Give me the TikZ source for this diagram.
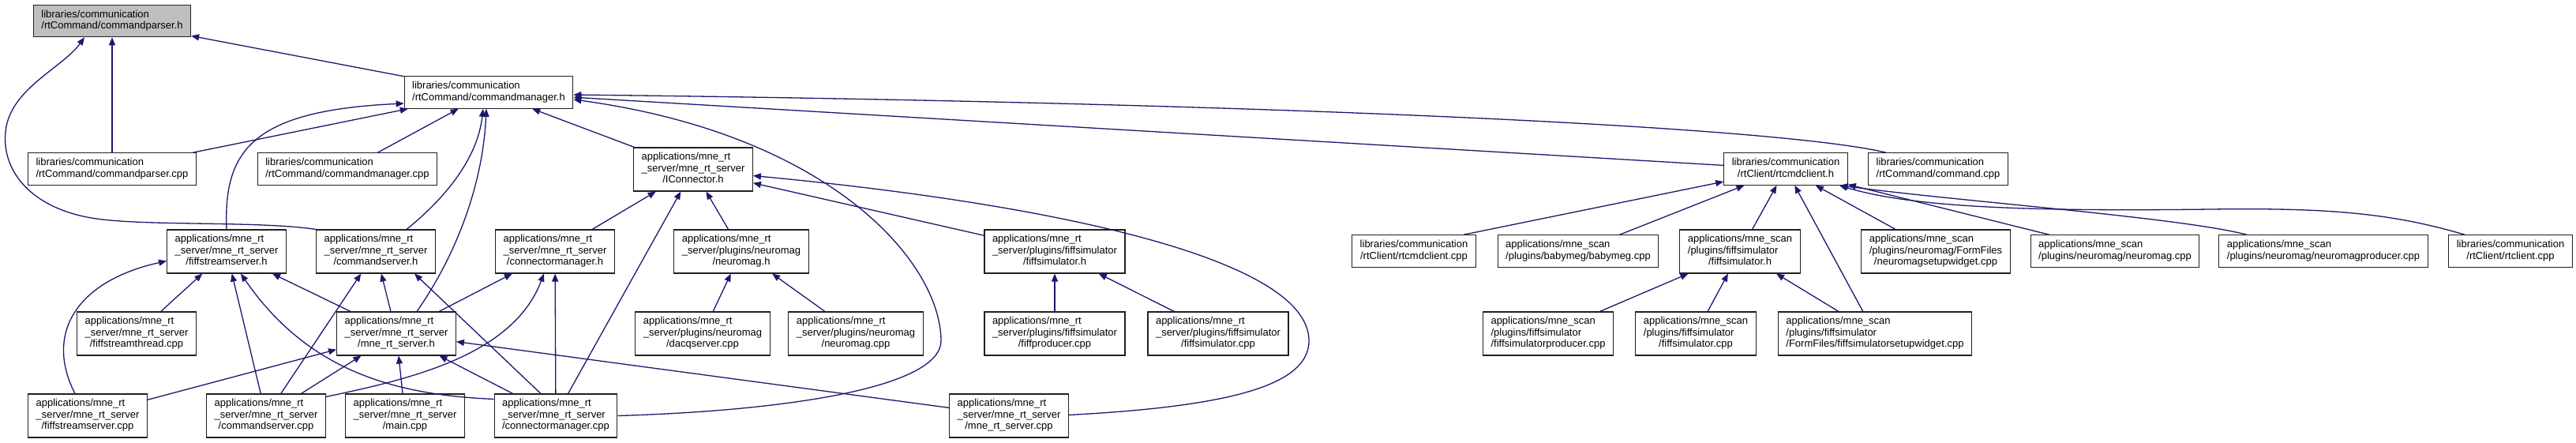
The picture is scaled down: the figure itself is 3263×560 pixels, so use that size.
\documentclass[tikz,border=0pt]{standalone}
\usepackage{fontspec}
\setmainfont{Liberation Sans}
\usepackage{xcolor}
\usepackage{tikz}
\usetikzlibrary{positioning, arrows.meta}
\definecolor{edgeblue}{HTML}{191970}
\definecolor{rootgray}{HTML}{BFBFBF}
\definecolor{boxline}{HTML}{202020}
\newcommand{\flab}[2]{\begin{tabular}{@{}l@{}}#1\\\multicolumn{1}{@{}c@{}}{#2}\end{tabular}}

\begin{document}
\begin{tikzpicture}[x=1pt, y=1pt,
  filenode/.style={draw=boxline, line width=1.1pt, fill=white, inner xsep=10pt, inner ysep=5.75pt,
    font=\fontsize{13}{14.5}\selectfont},
  dep/.style={edgeblue, line width=1.3pt, -{Triangle[length=10pt, width=8pt]}}]
  \path[fill=white, use as bounding box] (0,0) rectangle (3263,-560);

  \node[filenode, fill=rootgray] (cparserh) at (142,-26.5)
    {\flab{libraries/communication}{/rtCommand/commandparser.h}};
  \node[filenode] (cmanagerh) at (619,-117)
    {\flab{libraries/communication}{/rtCommand/commandmanager.h}};
  \node[filenode] (cparsercpp) at (142,-214)
    {\flab{libraries/communication}{/rtCommand/commandparser.cpp}};
  \node[filenode] (cmanagercpp) at (440,-214)
    {\flab{libraries/communication}{/rtCommand/commandmanager.cpp}};
  \node[filenode] (iconnh) at (878,-214.5)
    {\flab{applications/mne\_rt\\\_server/mne\_rt\_server}{/IConnector.h}};
  \node[filenode] (rtcmdclienth) at (2262,-214)
    {\flab{libraries/communication}{/rtClient/rtcmdclient.h}};
  \node[filenode] (commandcpp) at (2455,-214)
    {\flab{libraries/communication}{/rtCommand/command.cpp}};

  \node[filenode] (fssh) at (287,-318.5)
    {\flab{applications/mne\_rt\\\_server/mne\_rt\_server}{/fiffstreamserver.h}};
  \node[filenode] (csh) at (476,-318.5)
    {\flab{applications/mne\_rt\\\_server/mne\_rt\_server}{/commandserver.h}};
  \node[filenode] (cmh) at (703,-318.5)
    {\flab{applications/mne\_rt\\\_server/mne\_rt\_server}{/connectormanager.h}};
  \node[filenode] (nmh) at (939,-318.5)
    {\flab{applications/mne\_rt\\\_server/plugins/neuromag}{/neuromag.h}};
  \node[filenode] (fsimh) at (1336,-318.5)
    {\flab{applications/mne\_rt\\\_server/plugins/fiffsimulator}{/fiffsimulator.h}};
  \node[filenode] (rtcmdclientcpp) at (1791,-318)
    {\flab{libraries/communication}{/rtClient/rtcmdclient.cpp}};
  \node[filenode] (babymegcpp) at (1999,-318)
    {\flab{applications/mne\_scan}{/plugins/babymeg/babymeg.cpp}};
  \node[filenode] (sfsimh) at (2204,-318.5)
    {\flab{applications/mne\_scan\\/plugins/fiffsimulator}{/fiffsimulator.h}};
  \node[filenode] (nmsetupcpp) at (2452,-318.5)
    {\flab{applications/mne\_scan\\/plugins/neuromag/FormFiles}{/neuromagsetupwidget.cpp}};
  \node[filenode] (snmcpp) at (2679,-318)
    {\flab{applications/mne\_scan}{/plugins/neuromag/neuromag.cpp}};
  \node[filenode] (nmprodcpp) at (2943,-318)
    {\flab{applications/mne\_scan}{/plugins/neuromag/neuromagproducer.cpp}};
  \node[filenode] (rtclientcpp) at (3180,-318)
    {\flab{libraries/communication}{/rtClient/rtclient.cpp}};

  \node[filenode] (fstcpp) at (173,-422.5)
    {\flab{applications/mne\_rt\\\_server/mne\_rt\_server}{/fiffstreamthread.cpp}};
  \node[filenode] (mrsh) at (502,-422.5)
    {\flab{applications/mne\_rt\\\_server/mne\_rt\_server}{/mne\_rt\_server.h}};
  \node[filenode] (dacqcpp) at (890,-422.5)
    {\flab{applications/mne\_rt\\\_server/plugins/neuromag}{/dacqserver.cpp}};
  \node[filenode] (nmcpp) at (1084,-422.5)
    {\flab{applications/mne\_rt\\\_server/plugins/neuromag}{/neuromag.cpp}};
  \node[filenode] (fprodcpp) at (1336,-422.5)
    {\flab{applications/mne\_rt\\\_server/plugins/fiffsimulator}{/fiffproducer.cpp}};
  \node[filenode] (fsimcpp) at (1543,-422.5)
    {\flab{applications/mne\_rt\\\_server/plugins/fiffsimulator}{/fiffsimulator.cpp}};
  \node[filenode] (sfsimprodcpp) at (1961,-422.5)
    {\flab{applications/mne\_scan\\/plugins/fiffsimulator}{/fiffsimulatorproducer.cpp}};
  \node[filenode] (sfsimcpp) at (2148,-422.5)
    {\flab{applications/mne\_scan\\/plugins/fiffsimulator}{/fiffsimulator.cpp}};
  \node[filenode] (sfsimsetupcpp) at (2375,-422.5)
    {\flab{applications/mne\_scan\\/plugins/fiffsimulator}{/FormFiles/fiffsimulatorsetupwidget.cpp}};

  \node[filenode] (fsscpp) at (111,-526.5)
    {\flab{applications/mne\_rt\\\_server/mne\_rt\_server}{/fiffstreamserver.cpp}};
  \node[filenode] (cscpp) at (337,-526.5)
    {\flab{applications/mne\_rt\\\_server/mne\_rt\_server}{/commandserver.cpp}};
  \node[filenode] (maincpp) at (513,-526.5)
    {\flab{applications/mne\_rt\\\_server/mne\_rt\_server}{/main.cpp}};
  \node[filenode] (cmcpp) at (704,-526.5)
    {\flab{applications/mne\_rt\\\_server/mne\_rt\_server}{/connectormanager.cpp}};
  \node[filenode] (mrscpp) at (1278,-526.5)
    {\flab{applications/mne\_rt\\\_server/mne\_rt\_server}{/mne\_rt\_server.cpp}};

  \draw[dep] (cparsercpp) -- (cparserh);
  \draw[dep] (cmanagerh) -- (cparserh);
  \draw[dep] (csh.north west) .. controls (330,-280) and (200,-286) .. (130,-278)
    .. controls (40,-268) and (-2,-215) .. (8,-160)
    .. controls (18,-110) and (80,-85) .. ([xshift=-35pt]cparserh.south);

  \draw[dep] (cparsercpp) -- (cmanagerh);
  \draw[dep] (cmanagercpp) -- (cmanagerh);
  \draw[dep] (fssh.north) .. controls (283,-190) and (320,-140) .. ([yshift=-14pt]cmanagerh.west);
  \draw[dep] ([xshift=39pt]csh.north) .. controls (565,-250) and (605,-200) .. ([xshift=-7pt]cmanagerh.south);
  \draw[dep] ([xshift=26pt]mrsh.north) .. controls (580,-320) and (612,-230) .. ([xshift=-3pt]cmanagerh.south);
  \draw[dep] (iconnh) -- (cmanagerh);
  \draw[dep] (cmcpp.east) .. controls (1000,-520) and (1195,-490) .. (1192,-430)
    .. controls (1190,-330) and (1050,-170) .. ([yshift=-9pt]cmanagerh.east);
  \draw[dep] (rtcmdclienth) -- (cmanagerh);
  \draw[dep] ([xshift=-66pt]commandcpp.north) .. controls (2250,-160) and (1600,-130) .. ([yshift=-3pt]cmanagerh.east);

  \draw[dep] (cmh) -- (iconnh);
  \draw[dep] (cmcpp) -- (iconnh);
  \draw[dep] (nmh) -- (iconnh);
  \draw[dep] (fsimh) -- (iconnh);
  \draw[dep] ([yshift=1pt]mrscpp.east) .. controls (1550,-515) and (1660,-490) .. (1658,-430)
    .. controls (1655,-330) and (1350,-260) .. ([yshift=-8pt]iconnh.east);

  \draw[dep] (fstcpp) -- (fssh);
  \draw[dep] ([xshift=-16pt]fsscpp.north) .. controls (55,-420) and (100,-355) .. ([yshift=-12pt]fssh.west);
  \draw[dep] (cscpp) -- (fssh);
  \draw[dep] ([yshift=-7pt]cmcpp.north west) .. controls (500,-500) and (390,-470) .. ([xshift=18pt]fssh.south);
  \draw[dep] (mrsh) -- (fssh);

  \draw[dep] (cscpp) -- (csh);
  \draw[dep] (mrsh) -- (csh);
  \draw[dep] ([xshift=-19pt]cmcpp.north) -- ([xshift=49pt]csh.south);

  \draw[dep] (mrsh) -- (cmh);
  \draw[dep] ([yshift=-4pt]cscpp.north east) .. controls (520,-480) and (650,-450) .. ([xshift=-14pt]cmh.south);
  \draw[dep] (cmcpp) -- (cmh);

  \draw[dep] (fsscpp) -- (mrsh);
  \draw[dep] (cscpp) -- (mrsh);
  \draw[dep] (maincpp) -- (mrsh);
  \draw[dep] (cmcpp) -- (mrsh);
  \draw[dep] (mrscpp) -- (mrsh);

  \draw[dep] (dacqcpp) -- (nmh);
  \draw[dep] (nmcpp) -- (nmh);
  \draw[dep] (fprodcpp) -- (fsimh);
  \draw[dep] (fsimcpp) -- (fsimh);

  \draw[dep] ([xshift=63pt]rtcmdclientcpp.north) -- (rtcmdclienth);
  \draw[dep] (babymegcpp) -- (rtcmdclienth);
  \draw[dep] (sfsimh) -- (rtcmdclienth);
  \draw[dep] (sfsimsetupcpp) -- (rtcmdclienth);
  \draw[dep] (nmsetupcpp) -- (rtcmdclienth);
  \draw[dep] (snmcpp) -- (rtcmdclienth);
  \draw[dep] ([xshift=-97pt]nmprodcpp.north) .. controls (2760,-275) and (2480,-255) .. ([xshift=-10pt]rtcmdclienth.south east);
  \draw[dep] ([xshift=-58pt]rtclientcpp.north) .. controls (3030,-270) and (2950,-263) .. (2800,-265)
    .. controls (2560,-268) and (2420,-262) .. ([xshift=-11pt]rtcmdclienth.south east);

  \draw[dep] (sfsimprodcpp) -- (sfsimh);
  \draw[dep] (sfsimcpp) -- (sfsimh);
  \draw[dep] (sfsimsetupcpp) -- (sfsimh);
\end{tikzpicture}
\end{document}
